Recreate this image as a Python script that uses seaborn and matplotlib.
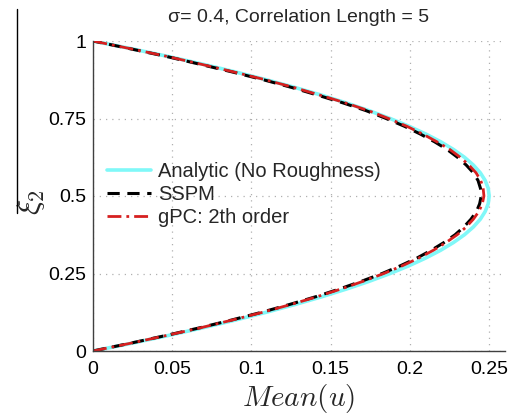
import matplotlib
matplotlib.use("Agg")
import matplotlib.pyplot as plt
import seaborn as sns
import pandas as pd
from matplotlib.lines import Line2D

# xi_2 positions (y axis)
xi2 = [0.0, 0.025, 0.05, 0.075, 0.1, 0.125, 0.15, 0.175, 0.2, 0.225, 0.25,
       0.275, 0.3, 0.325, 0.35, 0.375, 0.4, 0.425, 0.45, 0.475, 0.5,
       0.525, 0.55, 0.575, 0.6, 0.625, 0.65, 0.675, 0.7, 0.725, 0.75,
       0.775, 0.8, 0.825, 0.85, 0.875, 0.9, 0.925, 0.95, 0.975, 1.0]

mean_analytic = [0.0, 0.0244, 0.0475, 0.0694, 0.09, 0.1094, 0.1275, 0.1444, 0.16, 0.1744, 0.1875,
                 0.1994, 0.21, 0.2194, 0.2275, 0.2344, 0.24, 0.2444, 0.2475, 0.2494, 0.25,
                 0.2494, 0.2475, 0.2444, 0.24, 0.2344, 0.2275, 0.2194, 0.21, 0.1994, 0.1875,
                 0.1744, 0.16, 0.1444, 0.1275, 0.1094, 0.09, 0.0694, 0.0475, 0.0244, 0.0]

mean_sspm = [0.0, 0.0235, 0.046, 0.0675, 0.0875, 0.1065, 0.124, 0.1405, 0.1555, 0.1695, 0.1825,
             0.194, 0.2045, 0.2135, 0.2215, 0.2285, 0.234, 0.2385, 0.242, 0.244, 0.245,
             0.2445, 0.243, 0.240, 0.2355, 0.230, 0.2235, 0.2155, 0.2065, 0.1965, 0.185,
             0.1725, 0.158, 0.142, 0.1255, 0.1075, 0.088, 0.0675, 0.0465, 0.0235, 0.0]

mean_gpc = [0.0, 0.0237, 0.0463, 0.068, 0.088, 0.1072, 0.1248, 0.1413, 0.1565, 0.1705, 0.1835,
            0.1952, 0.2057, 0.2148, 0.2228, 0.2298, 0.2355, 0.2400, 0.2435, 0.2457, 0.2467,
            0.2462, 0.2447, 0.2417, 0.2372, 0.2317, 0.2252, 0.2170, 0.2080, 0.1980, 0.1865,
            0.1740, 0.1595, 0.1435, 0.1268, 0.1087, 0.0890, 0.0683, 0.0470, 0.0238, 0.0]

labels = ["Analytic (No Roughness)", "SSPM", "gPC: 2th order"]
xticks = [0, 0.05, 0.1, 0.15, 0.2, 0.25]
xticklabels = ["0", "0.05", "0.1", "0.15", "0.2", "0.25"]
yticks = [0, 0.25, 0.5, 0.75, 1]
yticklabels = ["0", "0.25", "0.5", "0.75", "1"]

sns.set_theme(style="white")
plt.rcParams['font.family'] = ['Liberation Sans', 'DejaVu Sans']
plt.rcParams['mathtext.fontset'] = 'cm'

fig = plt.figure(figsize=(5.16, 4.2), dpi=100)
ax = fig.add_axes([93/516, 1 - 351/420, (505-93)/516, (351-41)/420])

df = pd.DataFrame({"xi": xi2, "a": mean_analytic, "s": mean_sspm, "g": mean_gpc})
sns.lineplot(data=df, x="a", y="xi", sort=False, estimator=None, ax=ax,
             color="#80f8f8", lw=2.6, label=labels[0])
sns.lineplot(data=df, x="s", y="xi", sort=False, estimator=None, ax=ax,
             color="black", lw=2.2, linestyle=(0, (4, 2.5)), label=labels[1])
sns.lineplot(data=df, x="g", y="xi", sort=False, estimator=None, ax=ax,
             color="#d62020", lw=2.0, linestyle=(0, (5, 1.8, 1, 1.8)), label=labels[2])

ax.set_xlim(0, 0.26)
ax.set_ylim(0, 1)
ax.set_xticks(xticks)
ax.set_xticklabels(xticklabels)
ax.set_yticks(yticks)
ax.set_yticklabels(yticklabels)
ax.tick_params(axis="both", labelsize=14, colors="black", direction="in", length=3,
               width=0.8)
ax.tick_params(axis="x", pad=7)
ax.tick_params(axis="y", pad=5)
ax.grid(True, color="#b0b0b0", linestyle=(0, (1, 4)), linewidth=0.9)
for s in ["top", "right"]:
    ax.spines[s].set_visible(False)
for s in ["left", "bottom"]:
    ax.spines[s].set_color("#404040")
    ax.spines[s].set_linewidth(1.0)

ax.set_xlabel(r"$Mean(u)$", fontsize=21, labelpad=3)
ax.set_ylabel(r"$\xi_2$", fontsize=23)
ax.yaxis.set_label_coords(-0.112, 0.48)

leg = ax.legend(loc="upper left", bbox_to_anchor=(0.0, 0.655), frameon=False,
                fontsize=14.5, handlelength=2.2, handletextpad=0.35, labelspacing=0.2,
                borderaxespad=0.3)

ax.set_title("σ= 0.4, Correlation Length = 5", fontsize=14, pad=14)

fig.add_artist(Line2D([17/516, 17/516], [1 - 9/420, 1 - 213/420], color="black", lw=1.0,
                      transform=fig.transFigure))

fig.savefig("out.png", dpi=100)
